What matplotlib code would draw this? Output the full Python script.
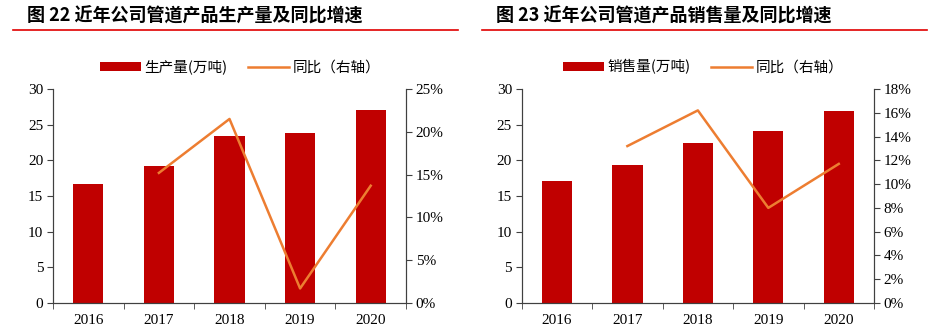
import matplotlib
matplotlib.use("Agg")
import matplotlib.pyplot as plt
from matplotlib.patches import Patch
from matplotlib.lines import Line2D
from matplotlib.ticker import FuncFormatter, MultipleLocator, FixedLocator

years = ["2016", "2017", "2018", "2019", "2020"]
prod = [16.7, 19.23, 23.35, 23.77, 27.0]
prod_yoy = [None, 15.2, 21.5, 1.7, 13.7]
sales = [17.08, 19.28, 22.37, 24.15, 26.95]
sales_yoy = [None, 13.2, 16.2, 8.0, 11.7]

titles = ["图 22 近年公司管道产品生产量及同比增速", "图 23 近年公司管道产品销售量及同比增速"]
bar_labels = ["生产量(万吨)", "销售量(万吨)"]
line_label = "同比（右轴）"

BAR = "#C00000"
LINE = "#ED7D31"
CJK = ["Noto Sans CJK SC", "DejaVu Sans"]
SERIF = "Liberation Serif"

fig = plt.figure(figsize=(9.29, 3.32), dpi=100)
W, H = 929, 332

def fx(px): return px / W
def fy(py): return 1 - py / H

panels = [
    dict(x0=53, x1=406, title_x=27, line_x=(13, 458), bars=prod, yoy=prod_yoy,
         rmax=25, rstep=5, blabel=bar_labels[0], title=titles[0], leg_x=100),
    dict(x0=521.7, x1=874, title_x=496, line_x=(482, 927), bars=sales, yoy=sales_yoy,
         rmax=18, rstep=2, blabel=bar_labels[1], title=titles[1], leg_x=563),
]

for p in panels:
    ax = fig.add_axes([fx(p["x0"]), fy(303), fx(p["x1"] - p["x0"]), (303 - 89) / H])
    x = list(range(len(years)))
    ax.bar(x, p["bars"], width=0.43, color=BAR, zorder=2)
    ax.set_xlim(-0.5, 4.5)
    ax.set_ylim(0, 30)
    ax.yaxis.set_major_locator(MultipleLocator(5))
    ax.set_xticks(x)
    ax.set_xticklabels(years)
    ax.xaxis.set_minor_locator(FixedLocator([i - 0.5 for i in range(6)]))
    ax.tick_params(axis="x", which="major", length=0, pad=8)
    ax.tick_params(axis="x", which="minor", length=4, direction="out", color="#404040")
    ax.tick_params(axis="y", length=4, direction="out", color="#404040", pad=3)
    for lab in ax.get_xticklabels() + ax.get_yticklabels():
        lab.set_fontfamily(SERIF)
        lab.set_fontsize(11)
    ax.spines["top"].set_visible(False)
    for s in ["left", "bottom", "right"]:
        ax.spines[s].set_color("#404040")
        ax.spines[s].set_linewidth(0.8)

    ax2 = ax.twinx()
    xs = [i for i, v in enumerate(p["yoy"]) if v is not None]
    ys = [v for v in p["yoy"] if v is not None]
    ax2.plot(xs, ys, color=LINE, lw=1.8, zorder=3)
    ax2.set_ylim(0, p["rmax"])
    ax2.yaxis.set_major_locator(MultipleLocator(p["rstep"]))
    ax2.yaxis.set_major_formatter(FuncFormatter(lambda v, pos: f"{v:.0f}%"))
    ax2.tick_params(axis="y", length=4, direction="out", color="#404040", pad=3)
    for lab in ax2.get_yticklabels():
        lab.set_fontfamily(SERIF)
        lab.set_fontsize(11)
    ax2.spines["top"].set_visible(False)
    for s in ["left", "bottom", "right"]:
        ax2.spines[s].set_color("#404040")
        ax2.spines[s].set_linewidth(0.8)

    # title and red rule
    fig.text(fx(p["title_x"]), fy(16.5), p["title"], fontsize=13, fontweight="bold",
             family=CJK, va="center", ha="left", color="black")
    fig.add_artist(Line2D([fx(p["line_x"][0]), fx(p["line_x"][1])], [fy(29.5), fy(29.5)],
                          color="#E00000", lw=1.2))

    handles = [Patch(facecolor=BAR, edgecolor="none"), Line2D([], [], color=LINE, lw=1.8)]
    fig.legend(handles, [p["blabel"], line_label], loc="center left",
               bbox_to_anchor=(fx(p["leg_x"]), fy(67)), ncol=2, frameon=False,
               prop={"family": CJK, "size": 10.5}, handlelength=2.8, handleheight=0.55,
               handletextpad=0.25, columnspacing=1.4, borderaxespad=0, borderpad=0)

fig.savefig("out.png", dpi=100)
